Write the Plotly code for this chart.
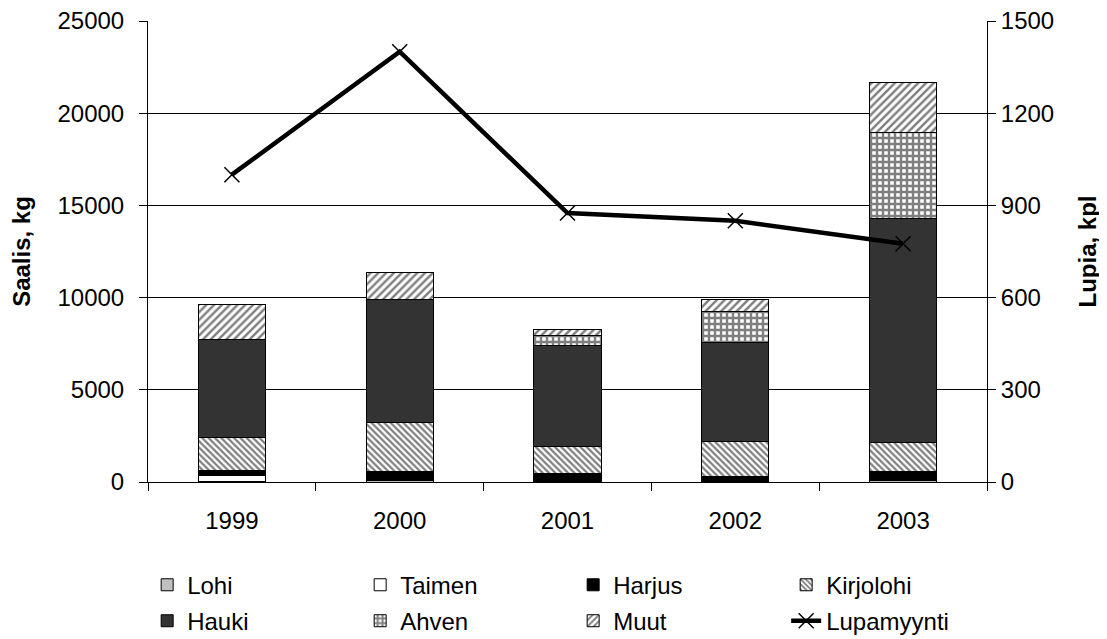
import plotly.graph_objects as go

years = ["1999", "2000", "2001", "2002", "2003"]
lohi = [20, 100, 0, 0, 100]
taimen = [310, 0, 0, 0, 0]
harjus = [320, 450, 470, 290, 450]
kirjolohi = [1750, 2670, 1480, 1930, 1570]
hauki = [5350, 6690, 5430, 5330, 12190]
ahven = [0, 0, 540, 1670, 4620]
muut = [1890, 1460, 360, 690, 2740]
lupamyynti = [1000, 1400, 875, 850, 775]

FONT = "Liberation Sans, Arial, sans-serif"

fig = go.Figure()

def bar(name, vals, color, pattern=None, legend="legend"):
    marker = dict(color=color, line=dict(color="black", width=1))
    if pattern:
        marker["pattern"] = pattern
    fig.add_trace(go.Bar(x=years, y=vals, name=name, marker=marker,
                         width=0.4, legend=legend))

bar("Lohi", lohi, "#c0c0c0")
bar("Taimen", taimen, "white")
bar("Harjus", harjus, "black")
bar("Kirjolohi", kirjolohi, "white",
    dict(shape="\\", fgcolor="black", bgcolor="white", size=4.5, solidity=0.5))
bar("Hauki", hauki, "#333333", legend="legend2")
bar("Ahven", ahven, "white",
    dict(shape="+", fgcolor="black", bgcolor="white", size=6, solidity=0.65),
    legend="legend2")
bar("Muut", muut, "white",
    dict(shape="/", fgcolor="black", bgcolor="white", size=5.5, solidity=0.45),
    legend="legend2")

fig.add_trace(go.Scatter(
    x=years, y=lupamyynti, name="Lupamyynti", yaxis="y2", mode="lines+markers",
    line=dict(color="black", width=4.5),
    marker=dict(symbol="x-thin", size=15, color="black",
                line=dict(color="black", width=1.5)),
    legend="legend2"))

tick_font = dict(family=FONT, size=24, color="black")
title_font = dict(family=FONT, size=24, color="black")
legend_common = dict(orientation="h", x=-0.001, xanchor="left", yanchor="top",
                     font=dict(family=FONT, size=24, color="black"),
                     entrywidth=168, entrywidthmode="pixels",
                     traceorder="normal", bgcolor="rgba(0,0,0,0)")

fig.update_layout(
    width=1107, height=639,
    margin=dict(l=140, r=128, t=13, b=165, autoexpand=False),
    paper_bgcolor="white", plot_bgcolor="white",
    barmode="stack",
    font=dict(family=FONT, size=24, color="black"),
    xaxis=dict(type="category", showline=True, linecolor="black", linewidth=1,
               ticks="outside", ticklen=8, tickcolor="black",
               tickson="boundaries", tickfont=tick_font,
               ticklabelstandoff=17, showgrid=False),
    yaxis=dict(range=[0, 25000], dtick=5000, tickformat="d", showline=True,
               linecolor="black", linewidth=1, ticks="outside", ticklen=8,
               tickcolor="black", showgrid=True, gridcolor="black", gridwidth=1,
               zeroline=False, tickfont=tick_font, ticklabelstandoff=10,
               ticklabeloverflow="allow",
               title=dict(text="<b>Saalis, kg</b>", font=title_font, standoff=24)),
    yaxis2=dict(range=[0, 1500], dtick=300, tickformat="d", overlaying="y",
                side="right", showline=True, linecolor="black", linewidth=1,
                ticks="outside", ticklen=8, tickcolor="black",
                showgrid=False, zeroline=False, tickfont=tick_font,
                ticklabeloverflow="allow",
                title=dict(text="<b>Lupia, kpl</b>", font=title_font, standoff=26)),
    legend=dict(y=-0.175, **legend_common),
    legend2=dict(y=-0.253, **legend_common),
    bargap=0.6,
)

fig.write_html("out.html")
